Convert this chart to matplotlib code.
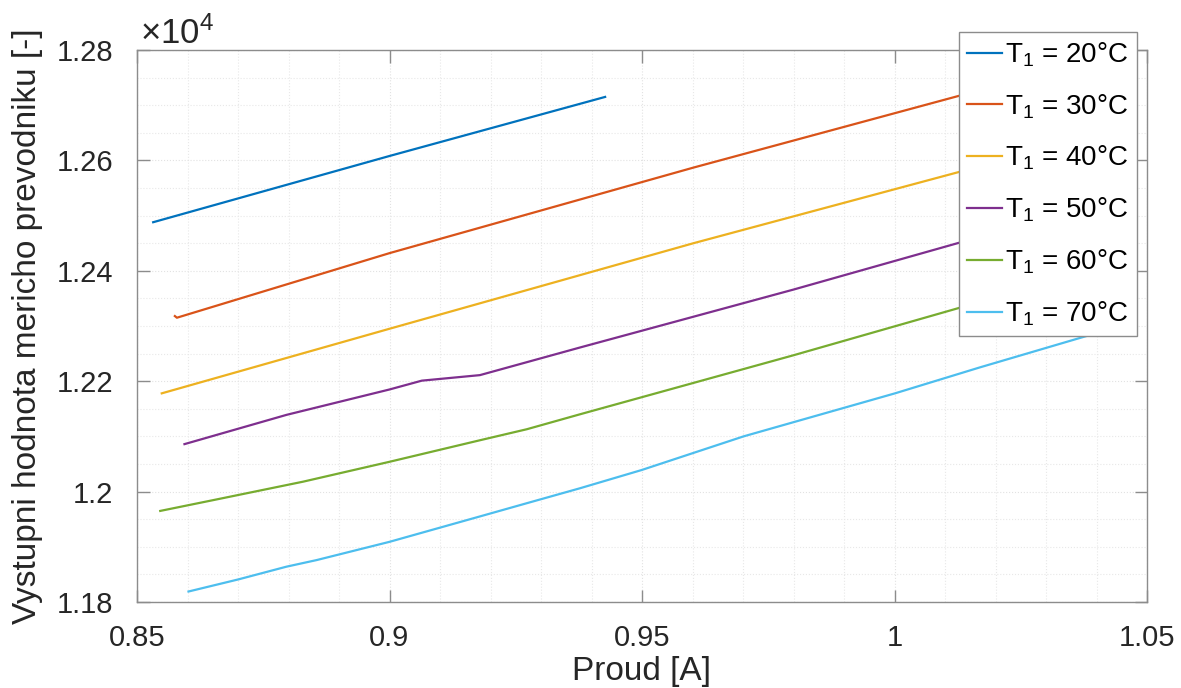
import numpy as np
import matplotlib
matplotlib.use("Agg")
import matplotlib.pyplot as plt
from matplotlib.ticker import FuncFormatter, MultipleLocator

plt.rcParams['font.family'] = ['Liberation Sans', 'DejaVu Sans']
plt.rcParams['mathtext.default'] = 'regular'

# values (proud [A], vystupni hodnota [-])
x20 = [0.8532, 0.9, 0.9427]
y20 = [12488, 12608, 12715]

x30 = [0.8575, 0.8579, 0.9, 0.9602, 1.0148, 1.035]
y30 = [12318, 12315, 12432, 12587, 12722, 12773]

x40 = [0.8549, 0.9, 0.9602, 1.0148, 1.04]
y40 = [12178, 12295, 12450, 12584, 12648]

x50 = [0.8594, 0.8796, 0.9, 0.9064, 0.9179, 0.9377, 0.98, 1.0148, 1.04]
y50 = [12086, 12139, 12185, 12201, 12211, 12261, 12366, 12456, 12520]

x60 = [0.8546, 0.8664, 0.8829, 0.9, 0.9179, 0.9272, 0.9377, 0.98, 1.0148, 1.04]
y60 = [11965, 11987, 12018, 12054, 12093, 12113, 12140, 12247, 12338, 12405]

x70 = [0.8602, 0.8701, 0.8796, 0.8856, 0.9, 0.9179, 0.9272, 0.9377, 0.9499,
       0.9701, 1.0001, 1.0169, 1.0377, 1.042]
y70 = [11819, 11841, 11864, 11876, 11909, 11955, 11979, 12006, 12039,
       12100, 12178, 12225, 12281, 12292]

series = [(x20, y20), (x30, y30), (x40, y40), (x50, y50), (x60, y60), (x70, y70)]
temps = [20, 30, 40, 50, 60, 70]
colors = ['#0072BD', '#D95319', '#EDB120', '#7E2F8E', '#77AC30', '#4DBEEE']

fig = plt.figure(figsize=(11.81, 6.88), dpi=100)
ax = fig.add_axes([137 / 1181, 1 - 602 / 688, 1010 / 1181, 552 / 688])

for (xs, ys), t, c in zip(series, temps, colors):
    ax.plot(xs, ys, color=c, lw=1.6, label='T$_{1}$ = %d°C' % t)

ax.set_xlim(0.85, 1.05)
ax.set_ylim(11800, 12800)
ax.xaxis.set_major_locator(MultipleLocator(0.05))
ax.xaxis.set_minor_locator(MultipleLocator(0.01))
ax.yaxis.set_major_locator(MultipleLocator(200))
ax.yaxis.set_minor_locator(MultipleLocator(50))
ax.xaxis.set_major_formatter(FuncFormatter(lambda v, p: '%g' % round(v, 4)))
ax.yaxis.set_major_formatter(FuncFormatter(lambda v, p: '%g' % round(v / 1e4, 4)))

axcol = '#8c8c8c'
txtcol = '#262626'
for s in ax.spines.values():
    s.set_color(axcol)
    s.set_linewidth(1.0)
ax.tick_params(which='major', direction='in', length=9, width=1.0, color=axcol,
               labelsize=21, labelcolor=txtcol, top=True, right=True)
ax.tick_params(axis='x', which='major', pad=16)
ax.tick_params(axis='y', which='major', pad=17)
ax.tick_params(which='minor', length=0, top=True, right=True)
ax.grid(which='major', color='#e2e2e2', lw=0.8, ls=':')
ax.grid(which='minor', color='#e8e8e8', lw=0.8, ls=':')
ax.set_axisbelow(True)

ax.set_xlabel('Proud [A]', fontsize=24, color=txtcol, labelpad=3)
ax.set_ylabel('Vystupni hodnota mericho prevodniku [-]', fontsize=24, color=txtcol, labelpad=10)
ax.text(0.003, 1 + 6 / 552, '×10$^{4}$', transform=ax.transAxes, fontsize=25,
        color=txtcol, ha='left', va='baseline')

leg = ax.legend(loc='upper right', bbox_to_anchor=(1137 / 1181, 1 - 32 / 688),
                bbox_transform=fig.transFigure, borderaxespad=0, fontsize=20,
                handlelength=1.25, handletextpad=0.12, labelspacing=0.84,
                borderpad=0.3, fancybox=False, framealpha=1)
leg.get_frame().set_edgecolor(axcol)
leg.get_frame().set_linewidth(1.0)
for t in leg.get_texts():
    t.set_color('black')

fig.savefig('out.png', dpi=100)
